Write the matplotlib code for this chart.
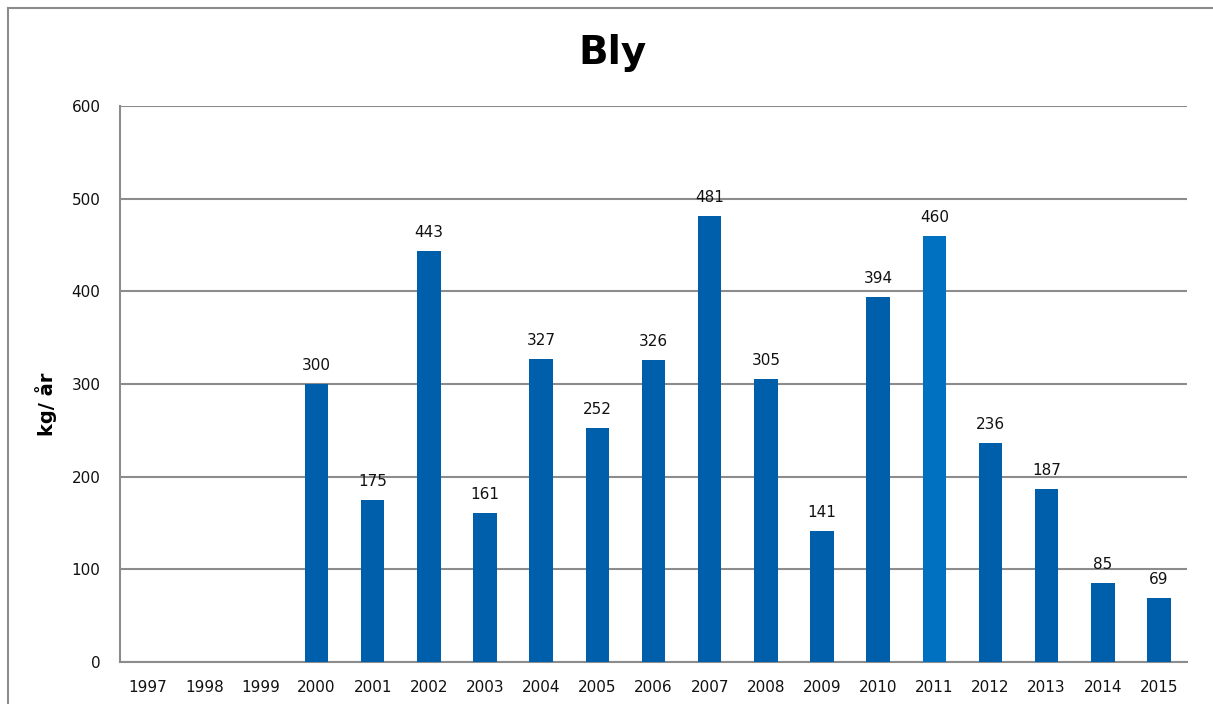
import matplotlib
matplotlib.use("Agg")
import matplotlib.pyplot as plt
from matplotlib.lines import Line2D

years = ["1997", "1998", "1999", "2000", "2001", "2002", "2003", "2004", "2005", "2006",
         "2007", "2008", "2009", "2010", "2011", "2012", "2013", "2014", "2015"]
values = [None, None, None, 300, 175, 443, 161, 327, 252, 326,
          481, 305, 141, 394, 460, 236, 187, 85, 69]
highlight = "2011"

bar_color = "#005FAA"
hl_color = "#0070C0"
grid_color = "#8C8C8C"

plt.rcParams['font.family'] = ['DejaVu Sans']

fig = plt.figure(figsize=(12.13, 7.04), dpi=100)
ax = fig.add_axes([0.0989, 0.0597, 0.8797, 0.7897])

xs = list(range(len(years)))
for x, y, v in zip(xs, years, values):
    if v is None:
        continue
    c = hl_color if y == highlight else bar_color
    ax.bar(x, v, width=0.42, color=c, zorder=3)
    ax.text(x, v + 12, str(v), ha="center", va="bottom", fontsize=11, color="#111111")

ax.set_xlim(-0.5, len(years) - 0.5)
ax.set_ylim(0, 600)
ax.set_yticks(range(0, 601, 100))
ax.set_xticks(xs)
ax.set_xticklabels(years)
ax.tick_params(axis="both", length=0, labelsize=11, colors="#111111")
ax.tick_params(axis="x", pad=13)
ax.tick_params(axis="y", pad=14)
ax.yaxis.grid(True, color=grid_color, linewidth=1.5, zorder=0)
for s in ["top", "right"]:
    ax.spines[s].set_visible(False)
for s in ["left", "bottom"]:
    ax.spines[s].set_color(grid_color)
    ax.spines[s].set_linewidth(1.5)

ax.set_ylabel("kg/ år", fontsize=14, fontweight="bold")
ax.yaxis.set_label_coords(-0.059, 0.463)
fig.text(0.505, 0.925, "Bly", ha="center", va="center", fontsize=28, fontweight="bold")

# outer frame (left and top edge)
fig.add_artist(Line2D([0.0062, 0.0062], [0, 0.989], transform=fig.transFigure, color="#8C8C8C", lw=1.5))
fig.add_artist(Line2D([0.0062, 1.0], [0.989, 0.989], transform=fig.transFigure, color="#8C8C8C", lw=1.5))

fig.savefig("out.png", dpi=100)
